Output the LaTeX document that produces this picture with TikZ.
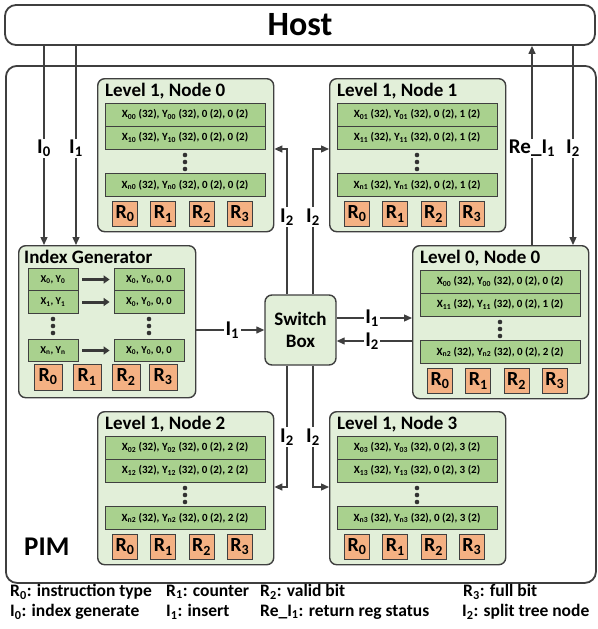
\documentclass[tikz,border=0pt]{standalone}
\usepackage{fontspec}
\setmainfont{Carlito}
\usetikzlibrary{arrows.meta}

\definecolor{edge}{HTML}{3F3F3F}
\definecolor{nodefill}{HTML}{E2EFD9}
\definecolor{rowc}{HTML}{A9D18E}
\definecolor{regc}{HTML}{F4B183}

\newcommand\sbs[1]{\textsubscript{#1}}

% one tree node: name, x, y, title, first row, second row, last row
\newcommand\levelnode[7]{%
  \node[lvbox, anchor=north west, minimum width=176, minimum height=153] (#1) at (#2,#3) {};
  \begin{scope}[shift={(#2,#3)}]
    \node[ttl, anchor=west] (#1-t) at (8,13) {#4};
    \node[rowbox] (#1-a) at (88,36.5) {#5};
    \node[rowbox] (#1-b) at (88,59.5) {#6};
    \foreach \d in {77,84,91} \fill[edge!80!black] (88,\d) circle[radius=2.3pt];
    \node[rowbox] (#1-n) at (88,107) {#7};
    \foreach \k in {0,...,3} \node[reg] (#1-r\k) at (28+38.3*\k,136) {R\sbs{\k}};
  \end{scope}}

\tikzset{
  outer/.style={draw=edge, line width=1.8pt, rounded corners=11pt, fill=white},
  lvbox/.style={draw=edge, line width=1.4pt, rounded corners=7pt, fill=nodefill},
  ttl/.style={font=\fontsize{19}{21}\selectfont\bfseries, inner sep=0pt},
  rowbox/.style={draw=edge, line width=0.8pt, fill=rowc, minimum width=160, minimum height=23,
    inner sep=0pt, font=\fontsize{11}{12}\selectfont\bfseries},
  smallrow/.style={draw=edge, line width=0.8pt, fill=rowc, minimum height=22.5,
    inner sep=0pt, font=\fontsize{10.5}{12}\selectfont\bfseries},
  reg/.style={draw=edge, line width=0.8pt, fill=regc, minimum width=25, minimum height=25,
    inner sep=0pt, font=\fontsize{20}{22}\selectfont\bfseries},
  bigreg/.style={reg, minimum width=28, minimum height=26},
  arr/.style={draw=edge, line width=1.3pt, -{Triangle[length=8pt,width=7pt]}},
  fat/.style={draw=edge!90!black, line width=3pt, -{Triangle[length=6pt,width=8pt]}},
  lbl/.style={fill=white, inner sep=1.5pt, font=\fontsize{21}{22}\selectfont\bfseries},
  legend/.style={anchor=west, inner sep=0pt, font=\fontsize{17.5}{20}\selectfont\bfseries},
}

\begin{document}
\begin{tikzpicture}[x=1pt, y=-1pt]
\useasboundingbox (0,0) rectangle (597,629);

% host and PIM frames
\node[outer, minimum width=590, minimum height=40, font=\fontsize{34}{36}\selectfont\bfseries,
      inner sep=0pt] (host) at (300,25) {Host};
\node[outer, anchor=north west, minimum width=590, minimum height=517] (pim) at (5,65) {};
\node[anchor=west, inner sep=0pt, font=\fontsize{27}{29}\selectfont\bfseries] (pimlbl) at (24,547) {PIM};

% tree nodes
\levelnode{l10}{97}{78}{Level 1, Node 0}
  {X\sbs{00} (32), Y\sbs{00} (32), 0 (2), 0 (2)}
  {X\sbs{10} (32), Y\sbs{10} (32), 0 (2), 0 (2)}
  {X\sbs{n0} (32), Y\sbs{n0} (32), 0 (2), 0 (2)}
\levelnode{l11}{329}{78}{Level 1, Node 1}
  {X\sbs{01} (32), Y\sbs{01} (32), 0 (2), 1 (2)}
  {X\sbs{11} (32), Y\sbs{11} (32), 0 (2), 1 (2)}
  {X\sbs{n1} (32), Y\sbs{n1} (32), 0 (2), 1 (2)}
\levelnode{l00}{412}{245}{Level 0, Node 0}
  {X\sbs{00} (32), Y\sbs{00} (32), 0 (2), 0 (2)}
  {X\sbs{11} (32), Y\sbs{11} (32), 0 (2), 1 (2)}
  {X\sbs{n2} (32), Y\sbs{n2} (32), 0 (2), 2 (2)}
\levelnode{l12}{97}{411}{Level 1, Node 2}
  {X\sbs{02} (32), Y\sbs{02} (32), 0 (2), 2 (2)}
  {X\sbs{12} (32), Y\sbs{12} (32), 0 (2), 2 (2)}
  {X\sbs{n2} (32), Y\sbs{n2} (32), 0 (2), 2 (2)}
\levelnode{l13}{329}{411}{Level 1, Node 3}
  {X\sbs{03} (32), Y\sbs{03} (32), 0 (2), 3 (2)}
  {X\sbs{13} (32), Y\sbs{13} (32), 0 (2), 3 (2)}
  {X\sbs{n3} (32), Y\sbs{n3} (32), 0 (2), 3 (2)}

% index generator
\node[lvbox, anchor=north west, minimum width=177, minimum height=152] (ig) at (18,245) {};
\node[ttl, anchor=west] (igt) at (24,257) {Index Generator};
\node[smallrow, minimum width=50] (igl1) at (53,279.5) {X\sbs{0}, Y\sbs{0}};
\node[smallrow, minimum width=50] (igl2) at (53,302) {X\sbs{1}, Y\sbs{1}};
\node[smallrow, minimum width=50] (igl3) at (53,350.5) {X\sbs{n}, Y\sbs{n}};
\node[smallrow, minimum width=70] (igr1) at (149,279.5) {X\sbs{0}, Y\sbs{0}, 0, 0};
\node[smallrow, minimum width=70] (igr2) at (149,302) {X\sbs{0}, Y\sbs{0}, 0, 0};
\node[smallrow, minimum width=70] (igr3) at (149,350.5) {X\sbs{0}, Y\sbs{0}, 0, 0};
\foreach \d in {319,326,333} {
  \fill[edge!80!black] (53,\d) circle[radius=2.3pt];
  \fill[edge!80!black] (149,\d) circle[radius=2.3pt];
}
\foreach \i in {1,2,3} \draw[fat, shorten <=4pt, shorten >=4pt] (igl\i.east) -- (igr\i.west);
\node[bigreg] (igr0x) at (48,377) {R\sbs{0}};
\node[bigreg] (igr1x) at (87,377) {R\sbs{1}};
\node[bigreg] (igr2x) at (126,377) {R\sbs{2}};
\node[bigreg] (igr3x) at (163,377) {R\sbs{3}};

% switch box
\node[lvbox, minimum width=71, minimum height=70, align=center,
      font=\fontsize{19}{22}\selectfont\bfseries] (sw) at (300.5,330) {Switch\\Box};

% host links
\coordinate (i0x) at (44,0);
\coordinate (i1x) at (76,0);
\coordinate (rex) at (532,0);
\coordinate (i2x) at (573,0);
\draw[arr] (host.south -| i0x) -- node[lbl, pos=0.515] {I\sbs{0}} (ig.north -| i0x);
\draw[arr] (host.south -| i1x) -- node[lbl, pos=0.515] {I\sbs{1}} (ig.north -| i1x);
\draw[arr] (l00.north -| rex) -- node[lbl, pos=0.485] {Re\_I\sbs{1}} (host.south -| rex);
\draw[arr] (host.south -| i2x) -- node[lbl, pos=0.515] {I\sbs{2}} (l00.north -| i2x);

% switch box links
\coordinate (ul) at (287,149);
\coordinate (ur) at (313,149);
\coordinate (dl) at (287,487);
\coordinate (dr) at (313,487);
\draw[arr] (sw.north -| ul) -- node[lbl, pos=0.53] {I\sbs{2}} (ul) -- (ul -| l10.east);
\draw[arr] (sw.north -| ur) -- node[lbl, pos=0.53] {I\sbs{2}} (ur) -- (ur -| l11.west);
\draw[arr] (sw.south -| dl) -- node[lbl, pos=0.59] {I\sbs{2}} (dl) -- (dl -| l12.east);
\draw[arr] (sw.south -| dr) -- node[lbl, pos=0.59] {I\sbs{2}} (dr) -- (dr -| l13.west);

\draw[arr] (ig.east |- sw) -- node[lbl, pos=0.53] {I\sbs{1}} (sw.west);
\coordinate (h1) at (0,318);
\coordinate (h2) at (0,341);
\draw[arr] (sw.east |- h1) -- node[lbl, pos=0.47] {I\sbs{1}} (l00.west |- h1);
\draw[arr] (l00.west |- h2) -- node[lbl, pos=0.53] {I\sbs{2}} (sw.east |- h2);

% legend
\node[legend] (lg1) at (10,592) {R\sbs{0}: instruction type};
\node[legend] (lg2) at (166,592) {R\sbs{1}: counter};
\node[legend] (lg3) at (260,592) {R\sbs{2}: valid bit};
\node[legend] (lg4) at (463,592) {R\sbs{3}: full bit};
\node[legend] (lg5) at (10,612) {I\sbs{0}: index generate};
\node[legend] (lg6) at (166,612) {I\sbs{1}: insert};
\node[legend] (lg7) at (260,612) {Re\_I\sbs{1}: return reg status};
\node[legend] (lg8) at (462,612) {I\sbs{2}: split tree node};
\end{tikzpicture}
\end{document}
